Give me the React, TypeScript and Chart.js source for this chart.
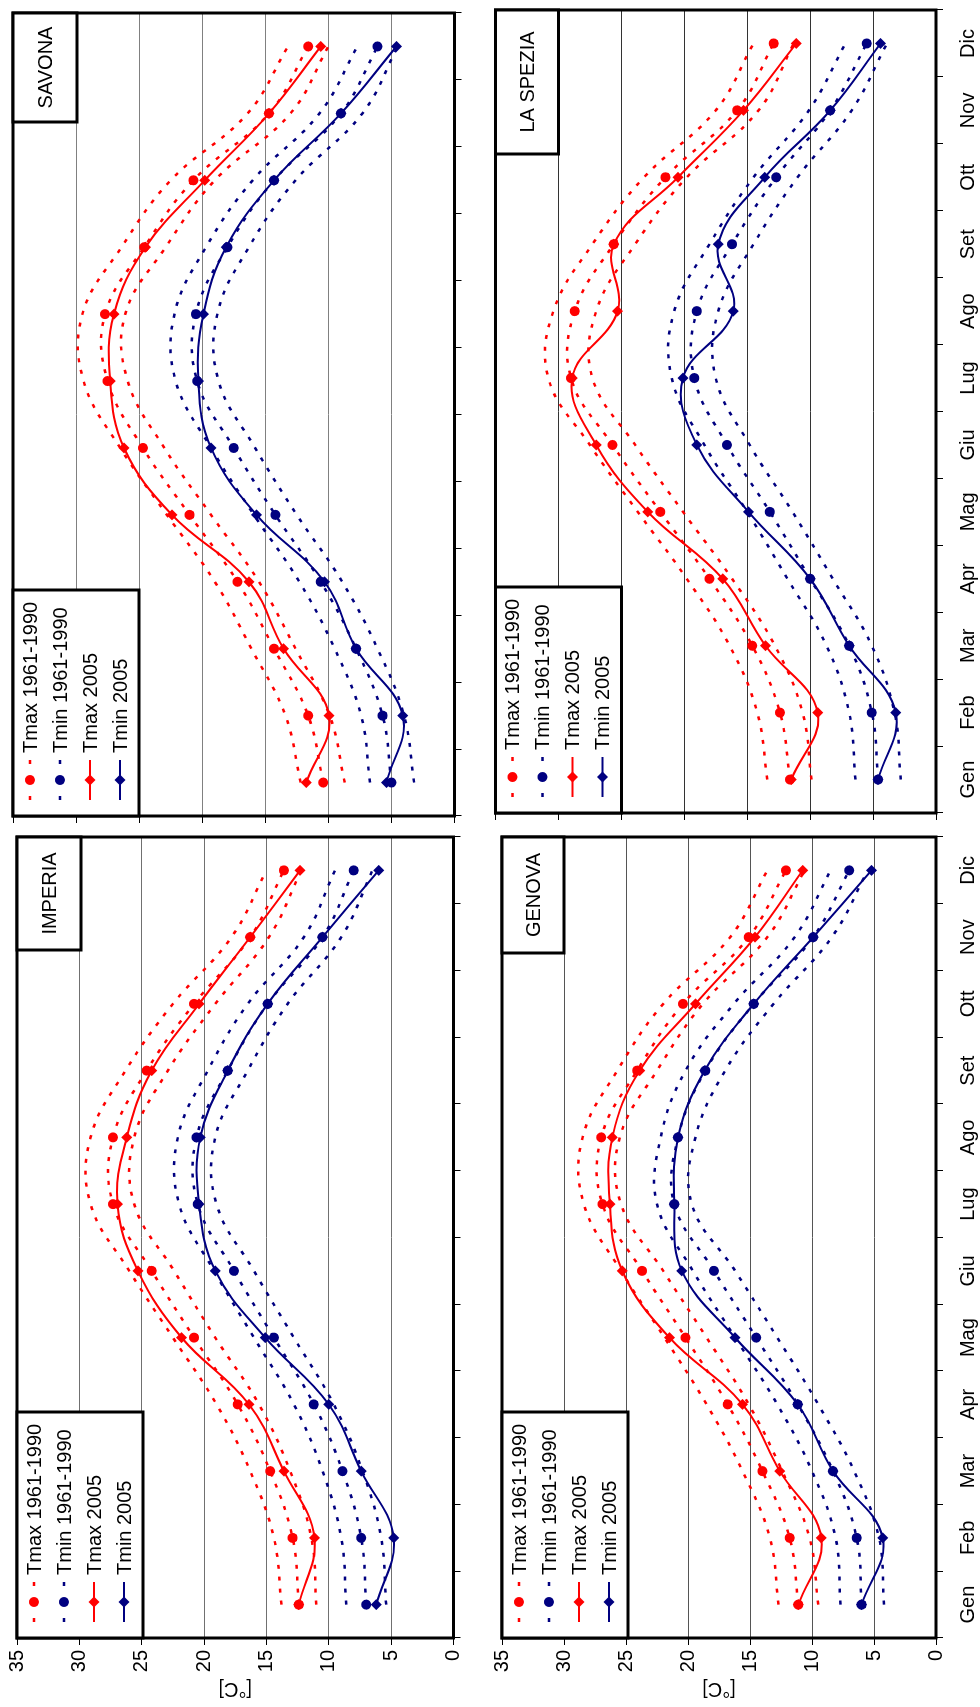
import React, { useEffect, useRef } from 'react';
import { Chart, registerables } from 'chart.js';

Chart.register(...registerables);

const FONT_FAMILY = '"Liberation Sans", Arial, sans-serif';
const RED = '#ff0000';
const NAVY = '#000080';

const MONTHS = ['Gen', 'Feb', 'Mar', 'Apr', 'Mag', 'Giu', 'Lug', 'Ago', 'Set', 'Ott', 'Nov', 'Dic'];
const Y_MIN = 0;
const Y_MAX = 35;
const Y_STEP = 5;
const Y_TITLE = '[°C]';
const LEGEND_LABELS = ['Tmax 1961-1990', 'Tmin 1961-1990', 'Tmax 2005', 'Tmin 2005'];

// IMPERIA
const IMPERIA_TMAX_MEAN = [12.4, 12.9, 14.7, 17.3, 20.8, 24.2, 27.3, 27.3, 24.6, 20.8, 16.3, 13.6];
const IMPERIA_TMAX_HI = [13.8, 14.4, 16.3, 19.0, 22.5, 26.0, 29.1, 29.1, 26.3, 22.5, 17.8, 15.0];
const IMPERIA_TMAX_LO = [11.0, 11.4, 13.1, 15.6, 19.1, 22.4, 25.6, 25.6, 22.9, 19.1, 14.8, 12.2];
const IMPERIA_TMIN_MEAN = [7.0, 7.4, 8.9, 11.2, 14.4, 17.6, 20.5, 20.6, 18.1, 14.9, 10.5, 8.0];
const IMPERIA_TMIN_HI = [8.6, 9.0, 10.5, 12.8, 16.0, 19.2, 22.0, 22.1, 19.7, 16.5, 12.0, 9.5];
const IMPERIA_TMIN_LO = [5.4, 5.8, 7.3, 9.6, 12.8, 16.0, 19.0, 19.1, 16.5, 13.3, 9.0, 6.5];
const IMPERIA_TMAX_2005 = [12.4, 11.15, 13.6, 16.4, 21.8, 25.3, 26.95, 26.2, 24.2, 20.4, 16.3, 12.3];
const IMPERIA_TMIN_2005 = [6.2, 4.8, 7.4, 10.0, 15.1, 19.1, 20.4, 20.3, 18.1, 14.9, 10.5, 6.0];

// SAVONA
const SAVONA_TMAX_MEAN = [10.4, 11.6, 14.3, 17.2, 21.0, 24.7, 27.5, 27.7, 24.6, 20.7, 14.7, 11.6];
const SAVONA_TMAX_HI = [12.2, 13.4, 16.1, 19.0, 22.8, 26.5, 29.4, 29.5, 26.4, 22.5, 16.4, 13.2];
const SAVONA_TMAX_LO = [8.7, 9.9, 12.6, 15.5, 19.3, 23.0, 25.9, 26.1, 22.9, 19.0, 13.0, 10.0];
const SAVONA_TMIN_MEAN = [5.0, 5.7, 7.8, 10.6, 14.2, 17.5, 20.4, 20.5, 18.0, 14.3, 9.0, 6.1];
const SAVONA_TMIN_HI = [6.7, 7.4, 9.5, 12.3, 15.9, 19.3, 22.1, 22.2, 19.7, 16.0, 10.7, 7.7];
const SAVONA_TMIN_LO = [3.2, 4.0, 6.1, 8.9, 12.5, 15.8, 18.7, 18.8, 16.3, 12.6, 7.3, 4.5];
const SAVONA_TMAX_2005 = [11.75, 9.95, 13.55, 16.3, 22.4, 26.2, 27.3, 27.0, 24.5, 19.8, 14.7, 10.6];
const SAVONA_TMIN_2005 = [5.4, 4.1, 7.8, 10.3, 15.7, 19.3, 20.3, 19.9, 18.1, 14.3, 9.0, 4.6];

// GENOVA
const GENOVA_TMAX_MEAN = [11.1, 11.8, 14.0, 16.8, 20.2, 23.7, 26.9, 27.0, 24.1, 20.4, 15.1, 12.1];
const GENOVA_TMAX_HI = [12.7, 13.4, 15.6, 18.5, 21.9, 25.4, 28.4, 28.5, 25.7, 22.0, 16.6, 13.6];
const GENOVA_TMAX_LO = [9.5, 10.2, 12.4, 15.1, 18.5, 22.0, 25.4, 25.5, 22.5, 18.8, 13.6, 10.6];
const GENOVA_TMIN_MEAN = [6.0, 6.4, 8.3, 11.15, 14.5, 17.9, 21.1, 20.8, 18.6, 14.7, 9.9, 7.0];
const GENOVA_TMIN_HI = [7.7, 8.1, 10.0, 12.8, 16.2, 19.6, 22.5, 22.2, 20.2, 16.3, 11.4, 8.5];
const GENOVA_TMIN_LO = [4.2, 4.6, 6.6, 9.5, 12.8, 16.2, 19.7, 19.4, 17.0, 13.1, 8.4, 5.5];
const GENOVA_TMAX_2005 = [11.1, 9.25, 12.6, 15.6, 21.5, 25.3, 26.3, 26.1, 23.9, 19.4, 14.6, 10.75];
const GENOVA_TMIN_2005 = [6.0, 4.3, 8.3, 11.15, 16.2, 20.5, 21.1, 20.8, 18.65, 14.7, 9.9, 5.2];

// LA SPEZIA
const SPEZIA_TMAX_MEAN = [11.6, 12.4, 14.6, 18.0, 21.9, 25.7, 29.0, 28.7, 25.6, 21.5, 15.8, 12.9];
const SPEZIA_TMAX_HI = [13.4, 14.2, 16.4, 19.8, 23.7, 27.5, 30.8, 30.4, 27.3, 23.2, 17.5, 14.5];
const SPEZIA_TMAX_LO = [9.9, 10.6, 12.8, 16.2, 20.1, 23.9, 27.3, 27.0, 23.9, 19.8, 14.1, 11.3];
const SPEZIA_TMIN_MEAN = [4.6, 5.1, 6.9, 10.0, 13.2, 16.6, 19.2, 19.0, 16.2, 12.7, 8.4, 5.5];
const SPEZIA_TMIN_HI = [6.4, 6.9, 8.7, 11.8, 15.0, 18.4, 21.0, 20.8, 18.0, 14.5, 10.1, 7.2];
const SPEZIA_TMIN_LO = [2.8, 3.3, 5.1, 8.2, 11.4, 14.8, 17.5, 17.3, 14.5, 11.0, 6.7, 3.9];
const SPEZIA_TMAX_2005 = [11.5, 9.4, 13.55, 16.95, 22.9, 27.0, 28.9, 25.3, 25.6, 20.5, 15.3, 11.1];
const SPEZIA_TMIN_2005 = [4.6, 3.2, 6.9, 10.0, 14.9, 19.0, 20.1, 16.1, 17.3, 13.6, 8.4, 4.4];

// Unrotated drawing surface (the whole figure is turned 90° counter-clockwise).
const SURF_W = 1707;
const SURF_H = 980;

type Panel = {
  name: string;
  L: number; R: number; T: number; B: number;
  yLabels: boolean; xLabels: boolean;
  gridColor: string;
  titleW: number; titleH: number;
  series: number[][];
};

const PANELS: Panel[] = [
  {
    name: 'IMPERIA', L: 69, R: 870, T: 13, B: 453.5, yLabels: true, xLabels: false,
    gridColor: '#707070', titleW: 113, titleH: 64,
    series: [IMPERIA_TMAX_HI, IMPERIA_TMAX_LO, IMPERIA_TMIN_HI, IMPERIA_TMIN_LO,
      IMPERIA_TMAX_MEAN, IMPERIA_TMIN_MEAN, IMPERIA_TMAX_2005, IMPERIA_TMIN_2005],
  },
  {
    name: 'SAVONA', L: 891, R: 1694, T: 13, B: 454.5, yLabels: false, xLabels: false,
    gridColor: '#808080', titleW: 109, titleH: 64,
    series: [SAVONA_TMAX_HI, SAVONA_TMAX_LO, SAVONA_TMIN_HI, SAVONA_TMIN_LO,
      SAVONA_TMAX_MEAN, SAVONA_TMIN_MEAN, SAVONA_TMAX_2005, SAVONA_TMIN_2005],
  },
  {
    name: 'GENOVA', L: 69, R: 870, T: 502, B: 936, yLabels: true, xLabels: true,
    gridColor: '#555555', titleW: 116, titleH: 62,
    series: [GENOVA_TMAX_HI, GENOVA_TMAX_LO, GENOVA_TMIN_HI, GENOVA_TMIN_LO,
      GENOVA_TMAX_MEAN, GENOVA_TMIN_MEAN, GENOVA_TMAX_2005, GENOVA_TMIN_2005],
  },
  {
    name: 'LA SPEZIA', L: 894, R: 1697, T: 495.5, B: 936, yLabels: false, xLabels: true,
    gridColor: '#333333', titleW: 144, titleH: 63,
    series: [SPEZIA_TMAX_HI, SPEZIA_TMAX_LO, SPEZIA_TMIN_HI, SPEZIA_TMIN_LO,
      SPEZIA_TMAX_MEAN, SPEZIA_TMIN_MEAN, SPEZIA_TMAX_2005, SPEZIA_TMIN_2005],
  },
];

const DOT = [4, 8];

function boundDs(data: number[], color: string) {
  return {
    label: '', data, borderColor: color, borderWidth: 2.5, borderDash: DOT,
    pointRadius: 0, pointHoverRadius: 0, tension: 0.4, fill: false,
  };
}
function meanDs(label: string, data: number[], color: string) {
  return {
    label, data, borderColor: color, backgroundColor: color, borderWidth: 2.5, borderDash: DOT,
    pointStyle: 'circle', pointRadius: 5, pointBorderWidth: 0, pointBackgroundColor: color,
    pointBorderColor: color, tension: 0.4, fill: false, legendMarker: 'circle',
  };
}
function recentDs(label: string, data: number[], color: string) {
  return {
    label, data, borderColor: color, backgroundColor: color, borderWidth: 2,
    pointStyle: 'rectRot', pointRadius: 5.5, pointBorderWidth: 0, pointBackgroundColor: color,
    pointBorderColor: color, tension: 0.4, fill: false, legendMarker: 'diamond',
  };
}

const decorPlugin = {
  id: 'panelDecor',
  afterDraw(chart: any, _args: any, opts: any) {
    const { ctx, chartArea: a } = chart;
    ctx.save();
    ctx.setLineDash([]);
    // plot frame
    ctx.strokeStyle = '#000';
    ctx.lineWidth = 3;
    ctx.strokeRect(a.left, a.top, a.right - a.left, a.bottom - a.top);

    // legend box
    const lw = 226, lh = 126;
    ctx.fillStyle = '#fff';
    ctx.fillRect(a.left, a.top, lw, lh);
    ctx.strokeRect(a.left, a.top, lw, lh);
    const items = chart.data.datasets.filter((d: any) => d.label);
    items.forEach((d: any, i: number) => {
      const cy = a.top + 17 + i * 30;
      const x0 = a.left + 16, x1 = a.left + 56, xm = a.left + 36;
      ctx.strokeStyle = d.borderColor;
      ctx.fillStyle = d.borderColor;
      ctx.lineWidth = d.borderWidth;
      ctx.setLineDash([]);
      ctx.beginPath();
      if (d.borderDash && d.borderDash.length) {
        ctx.moveTo(x0, cy); ctx.lineTo(x0 + 4, cy);
        ctx.moveTo(x1 - 4, cy); ctx.lineTo(x1, cy);
      } else {
        ctx.moveTo(x0, cy); ctx.lineTo(x1, cy);
      }
      ctx.stroke();
      ctx.beginPath();
      if (d.legendMarker === 'circle') {
        ctx.arc(xm, cy, 5, 0, Math.PI * 2);
      } else {
        const r = 5.5;
        ctx.moveTo(xm, cy - r); ctx.lineTo(xm + r, cy); ctx.lineTo(xm, cy + r); ctx.lineTo(xm - r, cy);
        ctx.closePath();
      }
      ctx.fill();
      ctx.fillStyle = '#000';
      ctx.font = `20px ${FONT_FAMILY}`;
      ctx.textAlign = 'left';
      ctx.textBaseline = 'middle';
      ctx.fillText(d.label, a.left + 63, cy + 1);
    });

    // station title box (top-right corner)
    const tw = opts.titleW, th = opts.titleH;
    const tx = a.right - tw, ty = a.top;
    ctx.fillStyle = '#fff';
    ctx.fillRect(tx, ty, tw, th);
    ctx.strokeStyle = '#000';
    ctx.lineWidth = 3;
    ctx.strokeRect(tx, ty, tw, th);
    ctx.fillStyle = '#000';
    ctx.font = `20px ${FONT_FAMILY}`;
    ctx.textAlign = 'center';
    ctx.textBaseline = 'middle';
    ctx.fillText(opts.title, tx + tw / 2, ty + th / 2 + 1);
    ctx.restore();
  },
};

function makeConfig(p: Panel): any {
  const W = p.yLabels ? p.L : 8;
  const H = p.xLabels ? 44 : 8;
  const font = { family: FONT_FAMILY, size: 20 };
  const [tmaxHi, tmaxLo, tminHi, tminLo, tmaxMean, tminMean, tmax05, tmin05] = p.series;
  return {
    type: 'line',
    data: {
      labels: MONTHS,
      datasets: [
        boundDs(tmaxHi, RED),
        boundDs(tmaxLo, RED),
        boundDs(tminHi, NAVY),
        boundDs(tminLo, NAVY),
        meanDs(LEGEND_LABELS[0], tmaxMean, RED),
        meanDs(LEGEND_LABELS[1], tminMean, NAVY),
        recentDs(LEGEND_LABELS[2], tmax05, RED),
        recentDs(LEGEND_LABELS[3], tmin05, NAVY),
      ],
    },
    options: {
      responsive: false,
      animation: false,
      devicePixelRatio: 1,
      events: [],
      layout: {
        padding: { left: p.L - W, top: p.T, right: SURF_W - p.R, bottom: SURF_H - p.B - H },
      },
      plugins: {
        legend: { display: false },
        tooltip: { enabled: false },
        title: { display: false },
        panelDecor: { title: p.name, titleW: p.titleW, titleH: p.titleH },
      },
      scales: {
        x: {
          type: 'category',
          offset: true,
          border: { display: false },
          grid: {
            offset: true, drawOnChartArea: false, drawTicks: true, tickLength: 7,
            color: '#000', tickColor: '#000', lineWidth: 1,
          },
          ticks: {
            display: p.xLabels, color: '#000', font, padding: 13,
            maxRotation: 0, minRotation: 0, autoSkip: false,
          },
          afterFit: (s: any) => { s.height = H; },
        },
        y: {
          type: 'linear',
          min: Y_MIN,
          max: Y_MAX,
          border: { display: false },
          grid: { color: p.gridColor, lineWidth: 1, tickColor: '#000', tickLength: 7, drawTicks: true },
          ticks: { stepSize: Y_STEP, display: p.yLabels, color: '#000', font, padding: 5 },
          title: {
            display: p.yLabels, text: Y_TITLE, color: '#000', font,
            padding: { top: 6, bottom: 0 },
          },
          afterFit: (s: any) => { s.width = W; },
        },
      },
    },
    plugins: [decorPlugin],
  };
}

export default function App() {
  const canvases = useRef<(HTMLCanvasElement | null)[]>([]);

  useEffect(() => {
    const charts = PANELS.map((p, i) => new Chart(canvases.current[i] as HTMLCanvasElement, makeConfig(p)));
    return () => charts.forEach((c) => c.destroy());
  }, []);

  return (
    <div
      style={{
        position: 'absolute', left: 0, top: 0, width: 980, height: 1707,
        overflow: 'hidden', background: '#fff',
      }}
    >
      <div
        style={{
          position: 'absolute', left: 0, top: 0, width: SURF_W, height: SURF_H,
          transformOrigin: '0 0', transform: `translate(0px, ${SURF_W}px) rotate(-90deg)`,
        }}
      >
        {PANELS.map((p, i) => (
          <canvas
            key={p.name}
            ref={(el) => { canvases.current[i] = el; }}
            width={SURF_W}
            height={SURF_H}
            style={{ position: 'absolute', left: 0, top: 0, width: SURF_W, height: SURF_H }}
          />
        ))}
      </div>
    </div>
  );
}
